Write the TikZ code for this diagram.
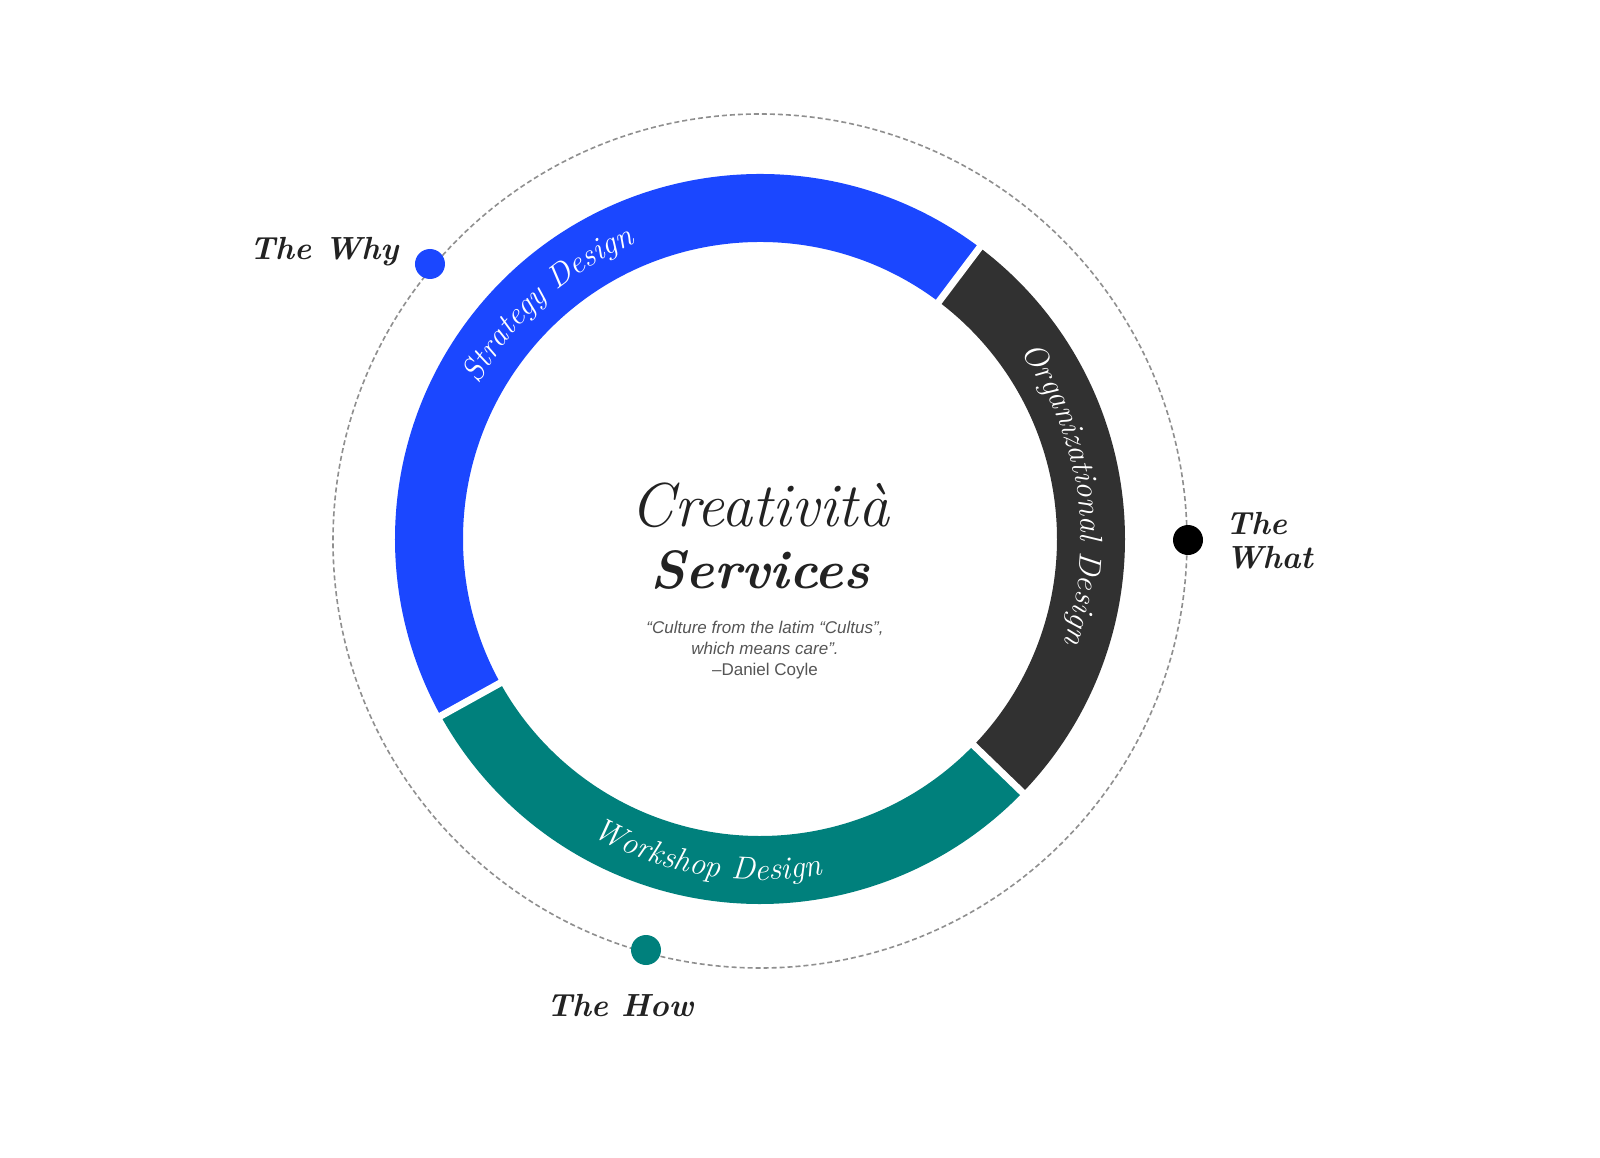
\documentclass[tikz,border=0pt]{standalone}
\usepackage{fontspec}
\newfontfamily\quotefont{Liberation Sans}
\usetikzlibrary{decorations.text}
\definecolor{segblue}{HTML}{1B47FF}
\definecolor{segdark}{HTML}{313131}
\definecolor{segteal}{HTML}{00807C}
\definecolor{quotegray}{HTML}{555555}
\definecolor{ringgray}{HTML}{8F8F8F}
\definecolor{inkblack}{HTML}{222222}
\newcommand{\segfont}{\color{white}\itshape\fontsize{32}{32}\selectfont}
\begin{document}
\begin{tikzpicture}[x=1pt,y=1pt,
  seg/.style={line width=68pt},
  gapline/.style={white, line width=7pt},
  orbit/.style={ringgray, dash pattern=on 5pt off 3pt, line width=1.6pt},
  dotnode/.style={circle, inner sep=0pt, minimum size=30pt},
  label/.style={text=inkblack, font=\bfseries\itshape\fontsize{32}{34}\selectfont},
  arctext/.style={decorate, decoration={text along path, text align=center, text={#1}}}
]
\useasboundingbox (-760,-618) rectangle (840,539);
\fill[white] (-760,-618) rectangle (840,539);
% dashed orbit
\draw[orbit] (0,-2) circle (427);
% ring segments
\draw[seg, segblue] (53:331) arc (53:209:331);
\draw[seg, segdark] (-44:331) arc (-44:53:331);
\draw[seg, segteal] (209:331) arc (209:316:331);
\draw[gapline] (53:290) -- (53:372);
\draw[gapline] (-44:290) -- (-44:372);
\draw[gapline] (209:290) -- (209:372);
% texts along ring
\path[arctext={|\segfont|Strategy Design}] (153:321) arc (153:111:321);
\path[arctext={|\segfont|Organizational Design}] (35:321) arc (35:-18:321);
\path[arctext={|\segfont|Workshop Design}] (237:341) arc (237:284:341);
% dots
\node[dotnode, fill=segblue] (why) at (-330,275) {};
\node[dotnode, fill=black] (what) at (428,-1) {};
\node[dotnode, fill=segteal] (how) at (-114,-411) {};
% labels
\node[label] (whylabel) at (-436,287) {The Why};
\node[label, anchor=west, align=left] (whatlabel) at (462,-2) {The\\What};
\node[label] (howlabel) at (-140,-466) {The How};
% centre
\node[text=inkblack, font=\itshape\fontsize{62}{62}\selectfont] (title) at (0,34) {Creatività};
\node[text=inkblack, font=\bfseries\itshape\fontsize{54}{54}\selectfont] (services) at (0,-31) {Services};
\node[text=quotegray, align=center, font=\quotefont\fontsize{17}{21}\selectfont] (quote) at (5,-111)
  {\itshape “Culture from the latim “Cultus”,\\\itshape which means care”.\\–Daniel Coyle};
\end{tikzpicture}
\end{document}
